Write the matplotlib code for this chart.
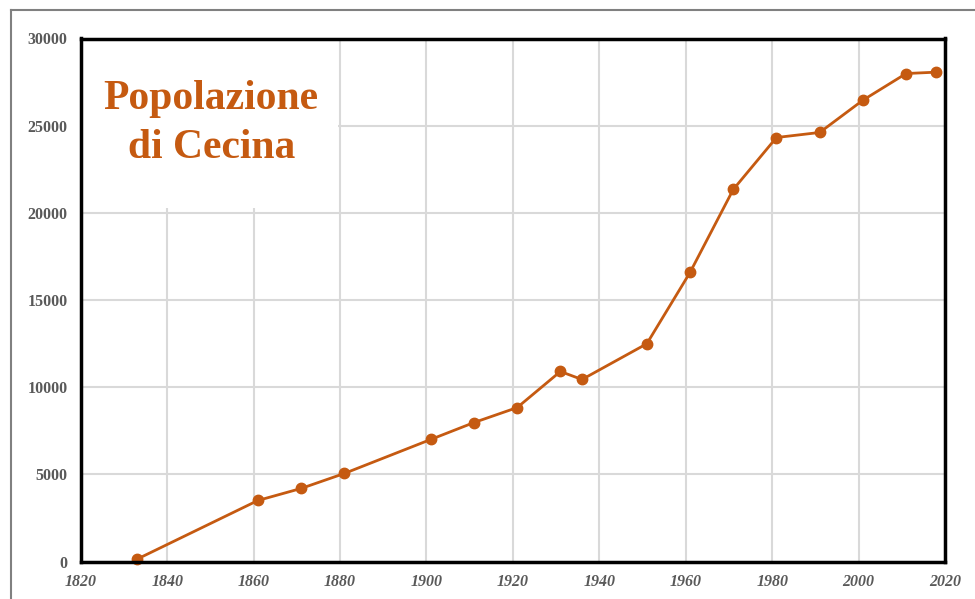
import matplotlib
matplotlib.use("Agg")
import matplotlib.pyplot as plt
from matplotlib.patches import Rectangle
from matplotlib.lines import Line2D

years = [1833, 1861, 1871, 1881, 1901, 1911, 1921, 1931, 1936, 1951, 1961, 1971, 1981, 1991, 2001, 2011, 2018]
population = [130, 3500, 4190, 5050, 7000, 7970, 8830, 10900, 10440, 12490, 16580, 21340, 24320, 24610, 26460, 27990, 28070]
x_ticks = [1820, 1840, 1860, 1880, 1900, 1920, 1940, 1960, 1980, 2000, 2020]
y_ticks = [0, 5000, 10000, 15000, 20000, 25000, 30000]
title_text = "Popolazione\ndi Cecina"

orange = "#C55A11"
W, H = 975, 599
fig = plt.figure(figsize=(W / 100, H / 100), dpi=100)
ax = fig.add_axes([80.7 / W, 1 - 561.5 / H, (945 - 80.7) / W, (561.5 - 38.5) / H])

ax.set_xlim(1820, 2020)
ax.set_ylim(0, 30000)
ax.set_xticks(x_ticks)
ax.set_yticks(y_ticks)
ax.set_xticklabels([str(t) for t in x_ticks], fontfamily="Liberation Serif", fontweight="bold",
                   fontstyle="italic", fontsize=11.5, color="#595959")
ax.set_yticklabels([str(t) for t in y_ticks], fontfamily="Liberation Serif", fontweight="bold",
                   fontsize=11.5, color="#595959")
ax.tick_params(axis="both", length=0)
ax.tick_params(axis="y", pad=9.5)
ax.tick_params(axis="x", pad=9)

ax.set_axisbelow(True)
ax.grid(True, color="#d9d9d9", linewidth=1.5, zorder=0.5)
for s in ax.spines.values():
    s.set_linewidth(2.5)
    s.set_color("black")
    s.set_zorder(5)

# white box behind the title
ax.add_patch(Rectangle((1820, 20250), 59.5, 9750, facecolor="white", edgecolor="none", zorder=1))

ax.plot(years, population, color=orange, linewidth=2, marker="o", markersize=7.5, zorder=3,
        clip_on=False)

ax.text(1850.2, 25130, title_text, ha="center", va="center", fontfamily="Liberation Serif",
        fontweight="bold", fontsize=30, color=orange, linespacing=1.37, zorder=4)

# outer border
fig.add_artist(Line2D([10.5 / W, 10.5 / W], [0, 1 - 9.5 / H], transform=fig.transFigure,
                      color="#808080", linewidth=1.5))
fig.add_artist(Line2D([10.5 / W, 1], [1 - 9.5 / H, 1 - 9.5 / H], transform=fig.transFigure,
                      color="#808080", linewidth=1.5))

fig.savefig("out.png", dpi=100, facecolor="white")
